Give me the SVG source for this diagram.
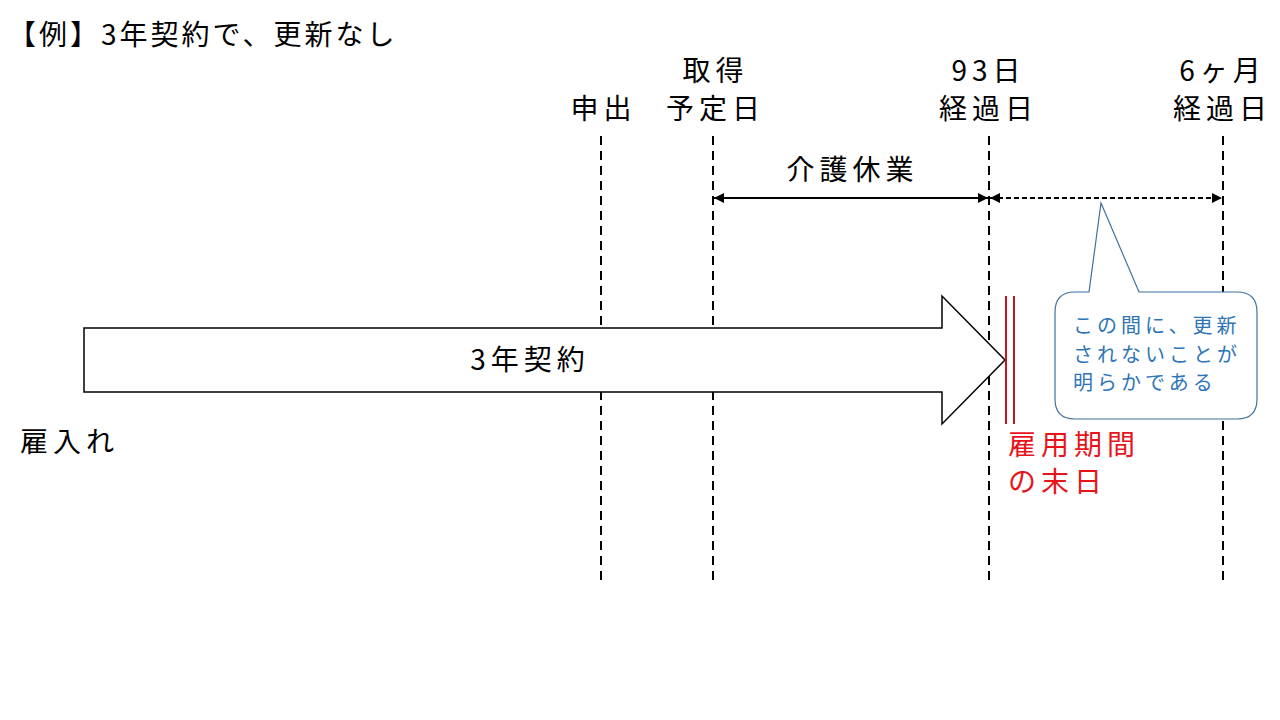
<svg xmlns="http://www.w3.org/2000/svg" width="1280" height="720" viewBox="0 0 1280 720">
<style>
text{font-family:"Noto Sans CJK JP","Noto Sans",sans-serif;}
.t{font-size:28px;fill:#000;letter-spacing:5px;}
.c{text-anchor:middle;}
.dash{stroke:#000;stroke-width:2;stroke-dasharray:9 6;fill:none;}
.red{fill:#E8141B;font-size:28px;letter-spacing:5px;}
.blue{fill:#2E75B6;font-size:20px;letter-spacing:4px;}
</style>
<defs>
<marker id="ah" viewBox="0 0 10 10" refX="10" refY="5" markerWidth="5" markerHeight="5" orient="auto-start-reverse" markerUnits="strokeWidth">
<path d="M0,0 L10,5 L0,10 z" fill="#000"/>
</marker>
</defs>
<rect width="1280" height="720" fill="#fff"/>
<text id="title" class="t" x="8" y="45" style="letter-spacing:3px">【例】3年契約で、更新なし</text>
<g id="timelines">
<line class="dash" x1="601" y1="136" x2="601" y2="585"/>
<line class="dash" x1="713" y1="136" x2="713" y2="585"/>
<line class="dash" x1="989" y1="136" x2="989" y2="585"/>
<line class="dash" x1="1223" y1="136" x2="1223" y2="585"/>
</g>
<g id="labels">
<text class="t c" x="603.5" y="119">申出</text>
<text class="t c" x="715.5" y="81">取得</text>
<text class="t c" x="715.5" y="119">予定日</text>
<text class="t c" x="988.5" y="81">93日</text>
<text class="t c" x="988.5" y="119">経過日</text>
<text class="t c" x="1222.5" y="81">6ヶ月</text>
<text class="t c" x="1222.5" y="119">経過日</text>
</g>
<g id="connectors">
<line x1="714" y1="198" x2="988" y2="198" stroke="#000" stroke-width="2" marker-start="url(#ah)" marker-end="url(#ah)"/>
<line x1="990" y1="198" x2="1222" y2="198" stroke="#000" stroke-width="2" stroke-dasharray="5 3" marker-start="url(#ah)" marker-end="url(#ah)"/>
</g>
<text id="kaigo" class="t c" x="852.5" y="180">介護休業</text>
<g id="contract">
<path d="M84,328 H942 V296 L1005,360 L942,424 V392 H84 Z" fill="#fff" stroke="#000" stroke-width="1.5" stroke-linejoin="miter"/>
<text class="t c" x="530" y="370">3年契約</text>
</g>
<text id="hire" class="t" x="20" y="452">雇入れ</text>
<g id="enddate">
<line x1="1006" y1="296" x2="1006" y2="424" stroke="#C8161D" stroke-width="2"/>
<line x1="1014" y1="296" x2="1014" y2="424" stroke="#C8161D" stroke-width="2"/>
<text class="red" x="1008" y="455">雇用期間</text>
<text class="red" x="1008" y="492">の末日</text>
</g>
<g id="callout">
<path d="M1075,292 H1089 L1101,203 L1139,292 H1237 Q1257,292 1257,312 V399 Q1257,419 1237,419 H1075 Q1055,419 1055,399 V312 Q1055,292 1075,292 Z" fill="#fff" stroke="#41719C" stroke-width="1.2"/>
<text class="blue" x="1073" y="333">この間に、更新</text>
<text class="blue" x="1073" y="362">されないことが</text>
<text class="blue" x="1073" y="390">明らかである</text>
</g>
</svg>
